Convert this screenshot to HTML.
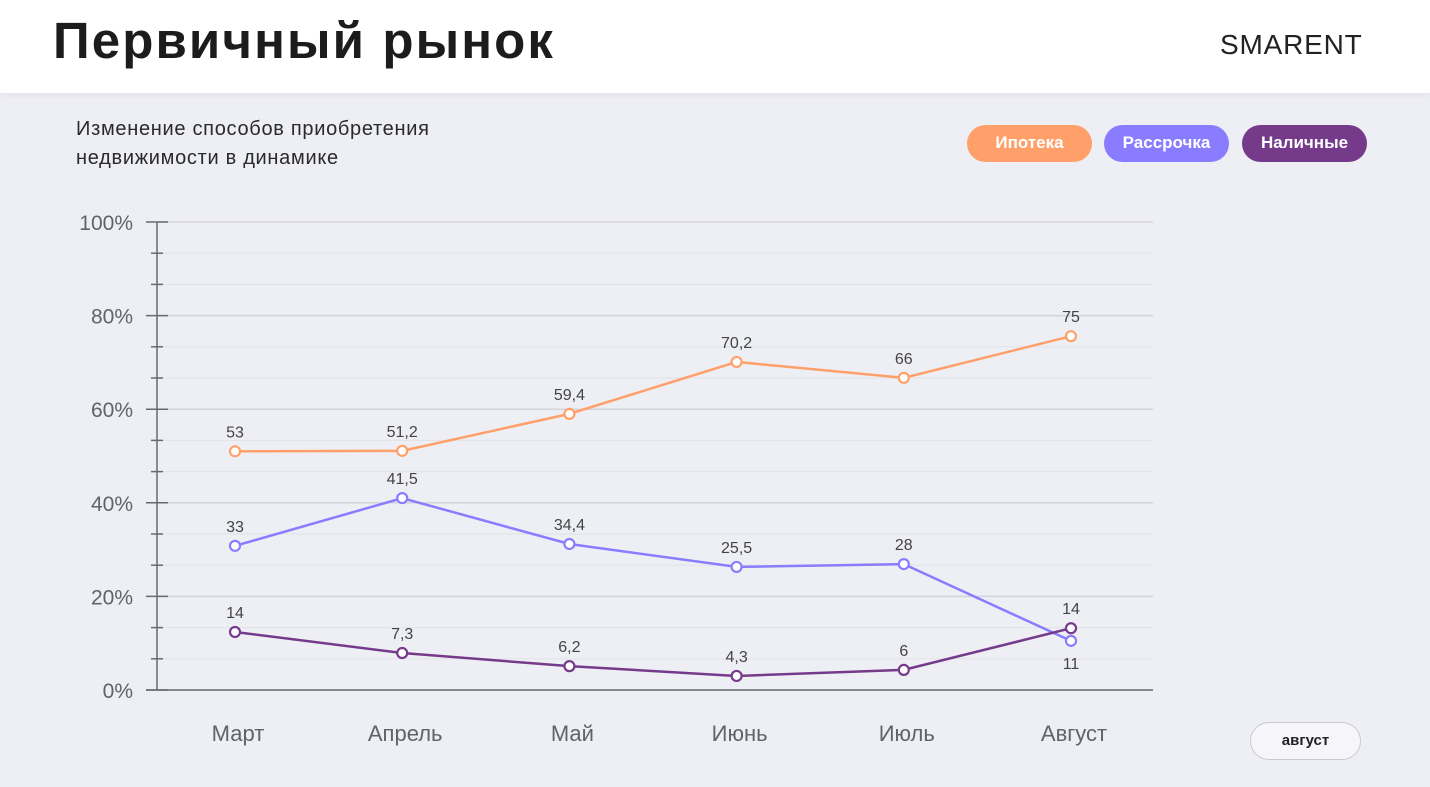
<!DOCTYPE html>
<html><head><meta charset="utf-8"><style>
body{margin:0;width:1430px;height:787px;overflow:hidden;background:#eeeff5;font-family:"Liberation Sans","Noto Sans CJK SC",sans-serif;position:relative}
.hdr{position:absolute;left:0;top:0;width:1430px;height:93px;background:#fff;box-shadow:0 2px 6px rgba(0,0,0,.06)}
.title{position:absolute;left:53px;top:11px;font-size:51px;font-weight:bold;color:#1c1c1c;letter-spacing:2.1px}
.logo{position:absolute;left:1220px;top:29px;font-size:28px;color:#222;letter-spacing:0.8px}
.sub{position:absolute;left:76px;top:115px;font-size:20px;line-height:29px;color:#2a2a2a;letter-spacing:0.7px}
.pill{position:absolute;top:125px;width:125px;height:37px;border-radius:19px;color:#fff;font-weight:bold;font-size:17px;text-align:center;line-height:36px}
.btn{position:absolute;left:1250px;top:722px;width:109px;height:36px;border:1.5px solid #c8c9d2;border-radius:19px;background:#f6f6fa;font-weight:bold;font-size:15px;text-align:center;line-height:35px;color:#222}
</style></head><body>
<div class="hdr"></div>
<div class="title">Первичный рынок</div>
<div class="logo">SMARENT</div>
<div class="sub">Изменение способов приобретения<br>недвижимости в динамике</div>
<div class="pill" style="left:967px;background:#ffa06a">Ипотека</div>
<div class="pill" style="left:1104px;background:#8a7cff">Рассрочка</div>
<div class="pill" style="left:1242px;background:#753a8a">Наличные</div>
<div class="btn">август</div>
<svg id="chart" width="1430" height="787" style="position:absolute;left:0;top:0"></svg>
<script>
const categories=["Март","Апрель","Май","Июнь","Июль","Август"];
const ipoteka=[51,51.1,59,70.1,66.7,75.6];
const ipotekaLabels=["53","51,2","59,4","70,2","66","75"];
const rassrochka=[30.8,41,31.2,26.3,26.9,10.5];
const rassrochkaLabels=["33","41,5","34,4","25,5","28","11"];
const nalichnye=[12.4,7.9,5.1,3,4.3,13.2];
const nalichnyeLabels=["14","7,3","6,2","4,3","6","14"];
const yTicks=[0,20,40,60,80,100];
const NS="http://www.w3.org/2000/svg",svg=document.getElementById('chart');
const y=v=>690-v*4.68;
const x=i=>235+i*167.2;
function el(t,a,txt){const e=document.createElementNS(NS,t);for(const k in a)e.setAttribute(k,a[k]);if(txt!=null)e.textContent=txt;svg.appendChild(e);return e;}
for(let k=0;k<=15;k++){const v=k*20/3,major=k%3===0;
 const g=el('line',{x1:157,x2:1153,y1:y(v),y2:y(v),stroke:major?'#d3d4da':'#e3e4ea','stroke-width':major?1.5:1.2});
 
 const t=el('line',{x1:major?146:151,x2:major?168:163,y1:y(v),y2:y(v),stroke:'#666a73','stroke-width':1.5});
 }
const ax=el('line',{x1:157,x2:157,y1:y(100),y2:690,stroke:'#666a73','stroke-width':1.5});

const xa=el('line',{x1:146,x2:1153,y1:690,y2:690,stroke:'#666a73','stroke-width':1.5});

yTicks.forEach(v=>{const t=el('text',{x:133,y:y(v)+8,'text-anchor':'end','font-size':21,fill:'#5f636b'},v+'%');
 });
categories.forEach((c,i)=>{const t=el('text',{x:x(i)+3,y:741,'text-anchor':'middle','font-size':22,fill:'#5f636b'},c);
 });
function series(vals,labels,color,name,below){
 const p=el('polyline',{points:vals.map((v,i)=>x(i)+','+y(v)).join(' '),fill:'none',stroke:color,'stroke-width':2.5});
 
 vals.forEach((v,i)=>{const c=el('circle',{cx:x(i),cy:y(v),r:5,fill:'#fff',stroke:color,'stroke-width':2.2});
  
  const b=below&&below[i];
  const t=el('text',{x:x(i),y:b?y(v)+28:y(v)-14,'text-anchor':'middle','font-size':16,fill:'#444'},labels[i]);
  });
}
series(ipoteka,ipotekaLabels,'#ffa06a','ipoteka');
series(rassrochka,rassrochkaLabels,'#8a7cff','rassrochka',[0,0,0,0,0,1]);
series(nalichnye,nalichnyeLabels,'#753a8a','nalichnye');
</script>
</body></html>
